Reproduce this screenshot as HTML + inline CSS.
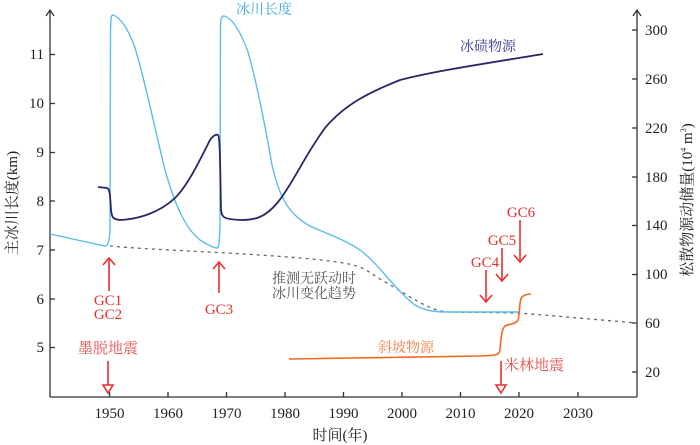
<!DOCTYPE html>
<html><head><meta charset="utf-8"><style>
html,body{margin:0;padding:0;background:#fff;}
svg{display:block;font-family:"Liberation Serif","Noto Serif CJK SC",serif;}
</style></head><body>
<svg width="700" height="445" viewBox="0 0 700 445">
<g stroke="#333" stroke-width="1.3" fill="none">
<line x1="50" y1="10" x2="50" y2="397"/><polyline points="46,16 50,10 54,16"/>
<line x1="50" y1="397" x2="637" y2="397"/>
<line x1="637" y1="10" x2="637" y2="397"/><polyline points="633,16 637,10 641,16"/>
<line x1="50" y1="54.5" x2="55" y2="54.5"/><line x1="50" y1="103.5" x2="55" y2="103.5"/><line x1="50" y1="152.5" x2="55" y2="152.5"/><line x1="50" y1="201" x2="55" y2="201"/><line x1="50" y1="250" x2="55" y2="250"/><line x1="50" y1="299" x2="55" y2="299"/><line x1="50" y1="347.5" x2="55" y2="347.5"/>
<line x1="632" y1="30" x2="637" y2="30"/><line x1="632" y1="79" x2="637" y2="79"/><line x1="632" y1="128" x2="637" y2="128"/><line x1="632" y1="177" x2="637" y2="177"/><line x1="632" y1="225.5" x2="637" y2="225.5"/><line x1="632" y1="274.5" x2="637" y2="274.5"/><line x1="632" y1="323" x2="637" y2="323"/><line x1="632" y1="372" x2="637" y2="372"/>
<line x1="109.5" y1="397" x2="109.5" y2="392"/><line x1="168" y1="397" x2="168" y2="392"/><line x1="226.5" y1="397" x2="226.5" y2="392"/><line x1="285" y1="397" x2="285" y2="392"/><line x1="343.5" y1="397" x2="343.5" y2="392"/><line x1="402" y1="397" x2="402" y2="392"/><line x1="460.5" y1="397" x2="460.5" y2="392"/><line x1="519" y1="397" x2="519" y2="392"/><line x1="578" y1="397" x2="578" y2="392"/>
</g>
<g font-size="15" fill="#222" text-anchor="end">
<text x="44" y="59">11</text><text x="44" y="108">10</text><text x="44" y="157">9</text><text x="44" y="206">8</text><text x="44" y="255">7</text><text x="44" y="304">6</text><text x="44" y="352">5</text>
</g>
<g font-size="15" fill="#222" text-anchor="start">
<text x="645" y="35">300</text><text x="645" y="84">260</text><text x="645" y="133">220</text><text x="645" y="182">180</text><text x="645" y="230">140</text><text x="645" y="279">100</text><text x="645" y="328">60</text><text x="645" y="377">20</text>
</g>
<g font-size="15" fill="#222" text-anchor="middle">
<text x="109.5" y="418">1950</text><text x="168" y="418">1960</text><text x="226.5" y="418">1970</text><text x="285" y="418">1980</text><text x="343.5" y="418">1990</text><text x="402" y="418">2000</text><text x="460.5" y="418">2010</text><text x="519" y="418">2020</text><text x="578" y="418">2030</text>
</g>
<text x="340" y="440" font-size="15" fill="#222" text-anchor="middle">时间(年)</text>
<text transform="translate(17,203) rotate(-90)" font-size="15" fill="#222" text-anchor="middle">主冰川长度(km)</text>
<text transform="translate(692,200) rotate(-90)" font-size="15" fill="#222" text-anchor="middle">松散物源动储量(10<tspan font-size="8" dy="-6">4</tspan><tspan dy="6"> m</tspan><tspan font-size="8" dy="-6">3</tspan><tspan dy="6">)</tspan></text>

<path d="M110,246 C150,250 230,252 300,258 S360,268 385,282 S430,312 450,312 L519,313 L637,323" stroke="#666" stroke-width="1.3" stroke-dasharray="3,4" fill="none"/>
<path d="M50,234 L105,246 C108,246 109,243 110,230 L110.5,30 C111,18 111,15 113,15 C120,17 128,28 135,48 C145,80 155,130 165,170 C175,205 185,228 200,240 C208,245 214,248 217,248 C219,248 219.5,240 220,225 L220.5,25 C221,17 222,16 224,16 C232,18 240,30 248,52 C256,80 265,125 272,165 C280,200 290,215 310,226 C330,235 345,240 360,250 C380,265 395,290 415,305 C425,311 435,312 450,312 L519,312" stroke="#5bbde8" stroke-width="1.4" fill="none"/>
<path d="M98,187 L107,188 C110,189 110,195 111,210 C112,218 113,219 120,220 C140,219 160,212 175,198 C188,185 200,160 210,140 C213,136 216,134 218,135 C220,137 220,160 221,210 C222,218 224,219 240,220 C255,220 265,218 278,202 C292,185 305,155 325,128 C345,104 370,92 400,80 C430,72 470,66 543,54" stroke="#2a2566" stroke-width="1.8" fill="none"/>
<path d="M289,359 L480,356 C495,355 499,356 500,350 C501,340 501,330 505,326 C509,324 516,324 518,320 C520,314 519,300 522,297 C524,295 527,294 531,294" stroke="#f06a20" stroke-width="1.6" fill="none"/>

<g stroke="#e83030" stroke-width="1.6" fill="none">
<line x1="109" y1="291" x2="109" y2="258"/><polyline points="103,265 109,258 115,265"/>
<line x1="219" y1="293" x2="219" y2="262"/><polyline points="213,269 219,262 225,269"/>
<line x1="486" y1="270" x2="486" y2="302"/><polyline points="480,295 486,302 492,295"/>
<line x1="502" y1="248" x2="502" y2="281"/><polyline points="496,274 502,281 508,274"/>
<line x1="520" y1="220" x2="520" y2="262"/><polyline points="514,255 520,262 526,255"/>
<line x1="108" y1="361" x2="108" y2="385"/><polygon points="103,385 113,385 108,393"/>
<line x1="501" y1="361" x2="501" y2="385"/><polygon points="496,385 506,385 501,393"/>
</g>
<g font-size="15" fill="#e83030" text-anchor="middle">
<text x="108" y="305">GC1</text><text x="108" y="319">GC2</text>
<text x="219" y="314">GC3</text>
<text x="485" y="267">GC4</text><text x="502" y="245">GC5</text><text x="521" y="217">GC6</text>
<text x="108" y="353" fill="#e85050">墨脱地震</text>
<text x="534" y="370" fill="#e85050">米林地震</text>
</g>
<text x="236" y="14" font-size="14" fill="#3aa8dc">冰川长度</text>
<text x="460" y="51" font-size="14" fill="#3a3590">冰碛物源</text>
<text x="378" y="352" font-size="14" fill="#f08040">斜坡物源</text>
<text x="272" y="283" font-size="14" fill="#555">推测无跃动时</text>
<text x="272" y="298" font-size="14" fill="#555">冰川变化趋势</text>
</svg>
</body></html>
